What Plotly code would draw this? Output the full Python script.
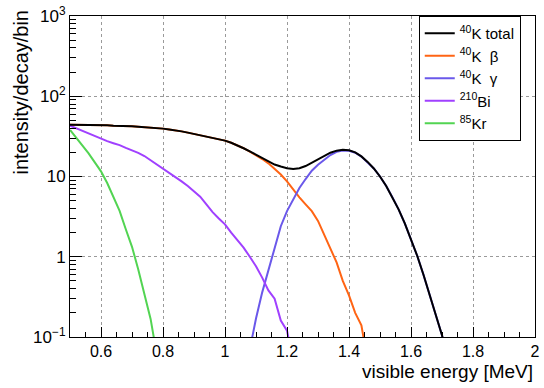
import plotly.graph_objects as go

# Energy grid (MeV), 20 keV spacing
energy = [round(0.50 + 0.02 * i, 2) for i in range(62)]

# intensity/decay/bin per component; None = outside the drawn range
k40_total = [44, 44, 44, 44, 44, 44, 43.5, 43, 43, 42.7,
             42.3, 41.8, 41.2, 40.7, 40.5, 39.5, 38.5, 37.7, 36.5, 35.2,
             34, 32.5, 31.5, 30.5, 29.5, 28, 26.3, 24.6, 22.5, 20.5,
             18.7, 16.9, 15.3, 14.1, 13.3, 12.7, 12.4, 12.7, 13.5, 14.9,
             16.5, 18.3, 19.8, 21, 21.5, 21.2, 20, 17.8, 15.2, 12.6,
             10, 7.6, 5.5, 3.9, 2.6, 1.67, 1.03, 0.6, 0.34, 0.19,
             0.105, 0.05]

k40_beta = [44, 44, 44, 44, 44, 44, 43.5, 43, 43, 42.7,
            42.3, 41.8, 41.2, 40.7, 40.5, 39.5, 38.5, 37.7, 36.5, 35.2,
            34, 32.5, 31.5, 30.5, 29.5, 28, 26.3, 24.6, 22.5, 20.4,
            18.5, 16.5, 14.6, 12.6, 10.6, 8.7, 6.9, 5.5, 4.5, 3.7,
            2.8, 1.9, 1.3, 0.85, 0.5, 0.33, 0.2, 0.14, 0.05, None,
            None, None, None, None, None, None, None, None, None, None,
            None, None]

k40_gamma = [None] * 29 + [0.07, 0.17, 0.36, 0.68, 1.3, 2.4, 3.7, 5.2, 7.2, 9.3, 11.8,
                          14, 16.3, 18.5, 20.3, 21.1, 20.9, 19.8, 17.7, 15.1, 12.6,
                          10, 7.6, 5.5, 3.9, 2.6, 1.67, 1.03, 0.6, 0.34, 0.19,
                          0.105, 0.05]

bi210 = [43, 40, 36.5, 34, 31.5, 29.5, 27.6, 26, 24.6, 22.7,
         21.2, 19.7, 18, 16, 14, 12.5, 11, 9.8, 8.7, 7.6,
         6.6, 5.6, 4.5, 3.6, 3.0, 2.53, 2.0, 1.6, 1.3, 1.0,
         0.76, 0.55, 0.38, 0.3, 0.16, 0.12, 0.05] + [None] * 25

kr85 = [38, 30.5, 24.6, 19.4, 15, 11.6, 8.3, 5.5, 3.72, 2.2,
        1.33, 0.7, 0.34, 0.168, 0.06] + [None] * 47

legend_names = ["<sup>40</sup>K total", "<sup>40</sup>K  β", "<sup>40</sup>K  γ",
                "<sup>210</sup>Bi", "<sup>85</sup>Kr"]
colors = ["#000000", "#ff6414", "#6a58ea", "#a040ff", "#52d452"]
series = [k40_total, k40_beta, k40_gamma, bi210, kr85]

x_ticks = [0.6, 0.8, 1.0, 1.2, 1.4, 1.6, 1.8, 2.0]
x_ticktext = ["0.6", "0.8", "1", "1.2", "1.4", "1.6", "1.8", "2"]
y_ticks = [0.1, 1, 10, 100, 1000]
y_ticktext = ["10<sup>−1</sup>", "1", "10", "10<sup>2</sup>", "10<sup>3</sup>"]
# minor log ticks: 2..9 within each decade
y_minor = [k * 10.0 ** e for e in range(-1, 3) for k in range(2, 10)]

fig = go.Figure()
# draw components first so the total sits on top; legend keeps listing order
for idx in [1, 2, 3, 4, 0]:
    fig.add_trace(go.Scatter(
        x=energy, y=series[idx], mode="lines", name=legend_names[idx],
        line=dict(color=colors[idx], width=2), connectgaps=False,
        legendrank=idx + 1,
    ))

font = "Liberation Sans, Arial, sans-serif"
grid_color = "#9a9a9a"
fig.update_layout(
    width=544, height=388,
    margin=dict(l=70, r=4, t=12, b=51),
    paper_bgcolor="white", plot_bgcolor="white",
    font=dict(family=font, size=16, color="black"),
    showlegend=True,
    legend=dict(x=0.75, y=1.0, xanchor="left", yanchor="top",
                bgcolor="white", bordercolor="black", borderwidth=1,
                font=dict(size=15), itemwidth=30, tracegroupgap=0),
    xaxis=dict(range=[0.5, 2.0], showline=True, linecolor="black", linewidth=1,
               mirror=True, tickmode="array", tickvals=x_ticks, ticktext=x_ticktext,
               ticks="inside", ticklen=10, tickwidth=1, tickcolor="black",
               ticklabeloverflow="allow", layer="above traces",
               showgrid=True, gridcolor=grid_color, griddash="dot", gridwidth=1,
               minor=dict(tickmode="linear", dtick=0.05, tick0=0.5, ticks="inside",
                          ticklen=5, tickwidth=1, tickcolor="black", showgrid=False),
               zeroline=False, tickfont=dict(size=16)),
    yaxis=dict(type="log", range=[-1, 3], showline=True, linecolor="black",
               linewidth=1, mirror=True, tickmode="array", tickvals=y_ticks,
               ticktext=y_ticktext, ticks="inside", ticklen=12, tickwidth=1,
               tickcolor="black", ticklabeloverflow="allow", layer="above traces",
               showgrid=True, gridcolor=grid_color, griddash="dot", gridwidth=1,
               minor=dict(tickmode="array", tickvals=y_minor, ticks="inside",
                          ticklen=6, tickwidth=1, tickcolor="black", showgrid=False),
               zeroline=False, tickfont=dict(size=17)),
    annotations=[
        dict(text="visible energy [MeV]", xref="paper", yref="paper",
             x=1.0, y=-0.07, xanchor="right", yanchor="top", showarrow=False,
             font=dict(size=19)),
        dict(text="intensity/decay/bin", xref="paper", yref="paper",
             x=-0.106, y=1.027, xanchor="center", yanchor="top", textangle=-90,
             showarrow=False, font=dict(size=20)),
    ],
)

fig.write_html("out.html")
